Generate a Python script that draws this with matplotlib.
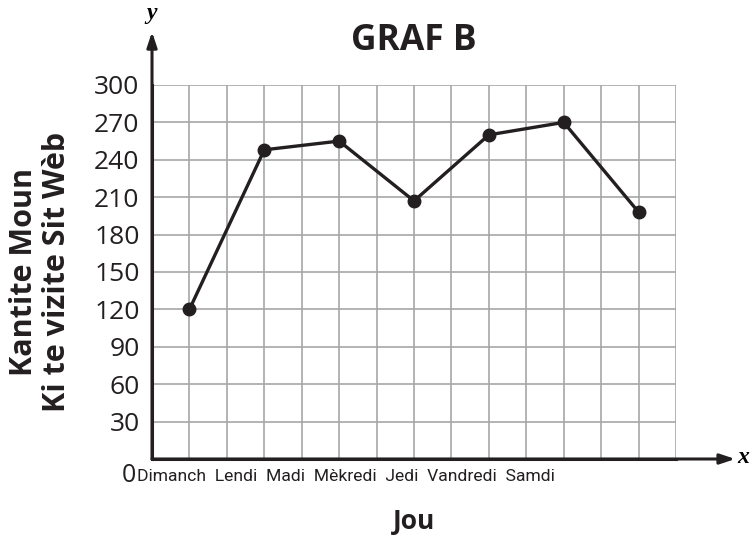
import matplotlib.pyplot as plt
from matplotlib.ticker import MultipleLocator

# Data
days = ['Dimanch', 'Lendi', 'Madi', 'Mèkredi', 'Jedi', 'Vandredi', 'Samdi']
visitors = [120, 248, 255, 207, 260, 270, 198]
y_ticks = [30, 60, 90, 120, 150, 180, 210, 240, 270, 300]

plt.rcParams['font.family'] = ['Open Sans', 'DejaVu Sans']
ink = '#231f20'

fig = plt.figure(figsize=(7.54, 5.43), dpi=100)
ax = fig.add_axes([0.2016, 0.1547, 0.695, 0.6888])

x = list(range(len(days)))
ax.plot(x, visitors, color=ink, lw=2.4, marker='o', ms=9, zorder=3)

ax.set_xlim(-0.5, 6.5)
ax.set_ylim(0, 300)

# grid: every half category, every 30 units
ax.xaxis.set_major_locator(MultipleLocator(0.5))
ax.set_yticks(y_ticks)
ax.grid(True, color='#a7a7a7', lw=1.2)
ax.set_axisbelow(True)
ax.tick_params(length=0, labelbottom=False)
ax.tick_params(axis='y', labelsize=19, pad=9, labelcolor=ink)

for s in ['top', 'right']:
    ax.spines[s].set_visible(False)
for s in ['left', 'bottom']:
    ax.spines[s].set_linewidth(2.2)
    ax.spines[s].set_color(ink)

# arrows on the axes
arrow = dict(arrowstyle='-|>,head_length=0.9,head_width=0.3', color=ink, lw=2.2,
             shrinkA=0, shrinkB=0)
ax.annotate('', xy=(1.113, 0), xytext=(0, 0), xycoords='axes fraction',
            arrowprops=arrow, annotation_clip=False)
ax.annotate('', xy=(0, 1.142), xytext=(0, 0), xycoords='axes fraction',
            arrowprops=arrow, annotation_clip=False)
ax.text(1.116, 0.003, 'x', transform=ax.transAxes, ha='left', va='center',
        family='Liberation Serif', style='italic', weight='bold', fontsize=17)
ax.text(0, 1.19, 'y', transform=ax.transAxes, ha='center', va='center',
        family='Liberation Serif', style='italic', weight='bold', fontsize=17)

# origin label and day labels laid out as one row
ax.text(-0.045, -0.045, '0', transform=ax.transAxes, ha='center', va='center',
        fontsize=18, color=ink)
ax.text(-0.029, -0.047, '  '.join(days), transform=ax.transAxes, ha='left',
        va='center', fontsize=12.6, family='Roboto', color=ink)

ax.set_title('GRAF B', fontsize=25.5, weight='bold', pad=25, color=ink)
ax.set_xlabel('Jou', fontsize=19, weight='bold', labelpad=35, color=ink)
ax.set_ylabel('Kantite Moun\nKi te vizite Sit Wèb', fontsize=22, weight='bold',
              labelpad=16, linespacing=1.12, color=ink)

fig.savefig('out.png', dpi=100)
